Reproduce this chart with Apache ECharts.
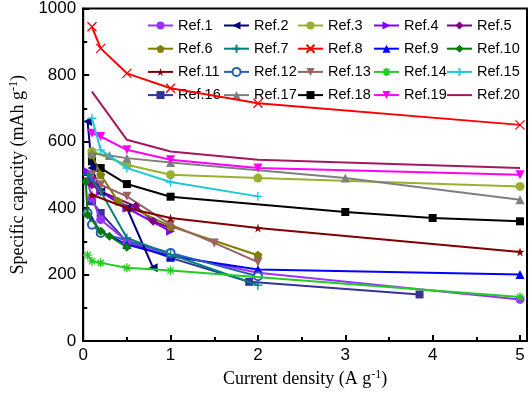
<!DOCTYPE html>
<html><head><meta charset="utf-8">
<script src="https://cdn.jsdelivr.net/npm/echarts@6/dist/echarts.min.js"></script>
<style>html,body{margin:0;padding:0;background:#fff}#c{width:532px;height:394px}</style>
</head><body><div id="c"></div>
<script>
const seriesNames = ['Ref.1','Ref.2','Ref.3','Ref.4','Ref.5','Ref.6','Ref.7','Ref.8','Ref.9','Ref.10','Ref.11','Ref.12','Ref.13','Ref.14','Ref.15','Ref.16','Ref.17','Ref.18','Ref.19','Ref.20'];
const ref1 = [[0.05,480],[0.1,430],[0.2,365],[0.5,300],[1,260],[2,205],[5,125]];
const ref2 = [[0.05,660],[0.1,520],[0.2,450],[0.5,400],[0.8,220]];
const ref3 = [[0.1,570],[0.5,530],[1,500],[2,490],[5,465]];
const ref4 = [[0.05,510],[0.1,490],[0.2,450],[0.5,400],[1,330]];
const ref5 = [[0.1,470],[0.2,450],[0.6,405],[0.8,360],[1,340]];
const ref6 = [[0.1,560],[0.2,500],[0.4,420],[1,345],[2,258]];
const ref7 = [[0.05,500],[0.2,450],[0.5,310],[1,260],[2,168]];
const ref8 = [[0.1,945],[0.2,880],[0.5,805],[1,760],[2,715],[5,650]];
const ref9 = [[0.05,390],[0.1,365],[0.2,330],[0.5,290],[1,255],[2,215],[5,200]];
const ref10 = [[0.03,480],[0.05,380],[0.2,330],[0.3,315],[0.5,282]];
const ref11 = [[0.1,440],[0.5,400],[1,370],[2,340],[5,268]];
const ref12 = [[0.05,385],[0.1,350],[0.2,325],[1,265],[2,195]];
const ref13 = [[0.1,500],[0.2,470],[0.5,435],[1,350],[1.5,295],[2,237]];
const ref14 = [[0.05,258],[0.1,240],[0.2,235],[0.5,220],[1,212],[5,132]];
const ref15 = [[0.1,670],[0.2,575],[0.5,520],[1,478],[2,435]];
const ref16 = [[0.1,420],[0.2,385],[0.5,298],[1,250],[1.9,178],[3.85,140]];
const ref17 = [[0.1,565],[0.3,558],[0.5,550],[1,537],[3,490],[5,425]];
const ref18 = [[0.1,540],[0.2,520],[0.5,472],[1,434],[3,388],[4,370],[5,360]];
const ref19 = [[0.1,625],[0.2,615],[0.5,575],[1,545],[2,520],[5,500]];
const ref20 = [[0.1,750],[0.5,605],[1,570],[2,545],[5,520]];
const allData = [ref1,ref2,ref3,ref4,ref5,ref6,ref7,ref8,ref9,ref10,ref11,ref12,ref13,ref14,ref15,ref16,ref17,ref18,ref19,ref20];
const xTicks = [0,1,2,3,4,5];

const STAR = 'path://M50,0L61,35L98,35L68,57L79,91L50,70L21,91L32,57L2,35L39,35Z';
const PENT = 'path://M50,0L100,38L81,100L19,100L0,38Z';
const XS = 'path://M0,0L10,10M10,0L0,10';
const PLUS = 'path://M5,0L5,10M0,5L10,5';
const AST = 'path://M5,0L5,10M0,5L10,5M1.5,1.5L8.5,8.5M8.5,1.5L1.5,8.5';
const styles = [
  {c:'#9933FF', s:'circle', z:8},
  {c:'#000080', s:'triangle', r:90, z:9},
  {c:'#9AB030', s:'circle', z:9},
  {c:'#8000FF', s:'triangle', r:-90, z:9},
  {c:'#800080', s:'diamond', z:9},
  {c:'#808000', s:PENT, z:9},
  {c:'#008080', s:PLUS, z:10, stroke:true},
  {c:'#FF0000', s:XS, z:10, stroke:true},
  {c:'#0000FF', s:'triangle', z:8},
  {c:'#008000', s:'diamond', z:9},
  {c:'#800000', s:STAR, z:10},
  {c:'#2A60B0', s:'circle', z:8, hollow:true},
  {c:'#9A6262', s:'triangle', r:180, z:9},
  {c:'#22CC22', s:AST, z:11, stroke:true},
  {c:'#1EC8D8', s:PLUS, z:10, stroke:true},
  {c:'#333399', s:'rect', z:7},
  {c:'#808080', s:'triangle', z:9},
  {c:'#000000', s:'rect', z:8},
  {c:'#FF00FF', s:'triangle', r:180, z:9},
  {c:'#A3185F', s:'none', z:8}
];

const series = seriesNames.map((n,i)=>{
  const st = styles[i];
  let itemStyle;
  if (st.stroke) itemStyle = {color: st.c, borderColor: st.c, borderWidth: 1.3};
  else if (st.hollow) itemStyle = {color: '#ffffff', borderColor: st.c, borderWidth: 2};
  else itemStyle = {color: st.c, borderWidth: 0};
  return {
    name: n, type: 'line', data: allData[i], z: st.z,
    symbol: st.s, symbolSize: st.hollow ? 8 : (st.stroke ? 9 : (st.s==='rect' ? 8 : 9)),
    symbolRotate: st.r || 0,
    showAllSymbol: true,
    lineStyle: {color: st.c, width: 2},
    itemStyle: itemStyle,
    emphasis: {disabled: true},
    animation: false
  };
});

const cols = [[0,5,10,15],[1,6,11,16],[2,7,12,17],[3,8,13,18],[4,9,14,19]];
const colLeft = [147,223,297,373,446];
const legends = cols.map((idx,k)=>({
  orient:'vertical', left: colLeft[k], top: 18, itemGap: 8.2, padding: 0,
  itemWidth: 25, itemHeight: 10,
  textStyle: {fontFamily:'Liberation Sans, Arial', fontSize: 14.5, color:'#000'},
  data: idx.map(j=> styles[j].s==='none' ? {name: seriesNames[j], itemStyle: {color: 'rgba(0,0,0,0)', borderWidth: 0}} : seriesNames[j]),
  selectedMode: false
}));

const chart = echarts.init(document.getElementById('c'), null, {renderer:'canvas'});
chart.setOption({
  animation: false,
  backgroundColor: '#fff',
  grid: {left: 77.5, right: 5, top: 8, bottom: 53, show: true, borderColor: '#000', borderWidth: 2, backgroundColor:'transparent'},
  legend: legends,
  xAxis: {
    type: 'value', min: 0, max: 5.08, interval: 1,
    name: '{a|Current density (A g}{s|-1}{a|)}',
    nameLocation: 'middle', nameGap: 26,
    nameTextStyle: {rich: {
      a: {fontFamily: 'Liberation Serif, Times New Roman', fontSize: 18, color: '#000'},
      s: {fontFamily: 'Liberation Serif, Times New Roman', fontSize: 12, color: '#000', padding: [0,0,9,0]}
    }},
    axisLine: {lineStyle: {color:'#000', width: 2}},
    axisTick: {inside: true, length: 6, lineStyle: {color:'#000', width: 2}},
    minorTick: {show: true, splitNumber: 2, length: 4, lineStyle: {color:'#000', width: 2}},
    splitLine: {show: false},
    axisLabel: {fontFamily: 'Liberation Sans, Arial', fontSize: 17, color: '#000', margin: 6,
      formatter: v => xTicks.includes(v) ? String(v) : ''}
  },
  yAxis: {
    type: 'value', min: 0, max: 1000, interval: 200,
    name: '{a|Specific capacity (mAh g}{s|-1}{a|)}',
    nameLocation: 'middle', nameGap: 50,
    nameTextStyle: {rich: {
      a: {fontFamily: 'Liberation Serif, Times New Roman', fontSize: 18, color: '#000'},
      s: {fontFamily: 'Liberation Serif, Times New Roman', fontSize: 12, color: '#000', padding: [0,0,9,0]}
    }},
    axisLine: {show: true, lineStyle: {color:'#000', width: 2}},
    axisTick: {show: true, inside: true, length: 6, lineStyle: {color:'#000', width: 2}},
    minorTick: {show: true, splitNumber: 2, length: 4, lineStyle: {color:'#000', width: 2}},
    splitLine: {show: false},
    axisLabel: {fontFamily: 'Liberation Sans, Arial', fontSize: 17, color: '#000', margin: 7,
      formatter: v => String(v)}
  },
  series: series
});
</script></body></html>
